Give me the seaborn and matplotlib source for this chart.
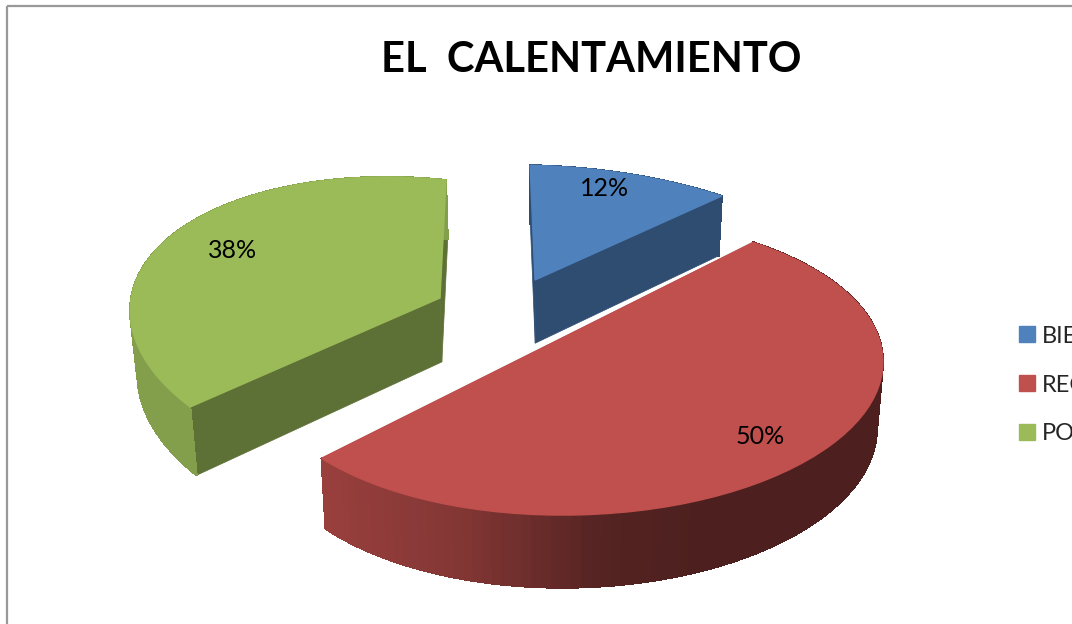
import numpy as np
import matplotlib
matplotlib.use("Agg")
import matplotlib.pyplot as plt
import seaborn as sns
from matplotlib.collections import PolyCollection
from matplotlib.patches import Rectangle
from matplotlib.transforms import Transform

# Chart data
TITLE = "EL  CALENTAMIENTO"
CATEGORIES = ["BIEN", "REGULAR", "POCO"]
VALUES = [12, 50, 38]
COLORS = ["#4F81BD", "#C0504D", "#9BBB59"]

# Where each exploded slice sits on the page: apex, plane matrix, perspective
CAMERA = {
    "BIEN": dict(apex=(535, 280), m=(323, -6, 6.7, -140), g=0.0, h=0.22),
    "REGULAR": dict(apex=(572, 333), m=(304, 3, -2.5, -142), g=0.0, h=0.22),
    "POCO": dict(apex=(440, 298), m=(287.3, 7.3, 24.9, -144.3), g=0.042, h=0.223),
}
LABEL_POS = {"BIEN": (605, 189), "REGULAR": (760, 437), "POCO": (233, 250)}
DRAW_ORDER = ["POCO", "BIEN", "REGULAR"]

# Brightness of the outer wall against page x
SHADE_X = {
    "BIEN": ([0, 1072], [0.6, 0.6]),
    "REGULAR": ([318, 460, 600, 700, 880], [0.80, 0.68, 0.44, 0.40, 0.40]),
    "POCO": ([130, 200], [0.85, 0.85]),
}
RADIAL_SHADE = 0.6


class SlicePlane(Transform):
    """Maps the unit pie disk onto the tilted page plane of one slice."""

    input_dims = 2
    output_dims = 2

    def __init__(self, apex, m, g, h):
        super().__init__()
        self.apex, self.m, self.g, self.h = apex, m, g, h

    def transform_non_affine(self, values):
        x, y = values[:, 0], values[:, 1]
        d = 1 + self.g * x + self.h * y
        px = self.apex[0] + (self.m[0] * x + self.m[1] * y) / d
        py = self.apex[1] + (self.m[2] * x + self.m[3] * y) / d
        return np.column_stack([px, py])


def drop(points):
    """Push top face points down to the bottom of the pie."""
    x, y = points[:, 0], points[:, 1]
    return np.column_stack([x + 0.018 * (545 - x), y + 52 + 0.04 * y])


def draw_walls(ax, plane, start, end, color, shade_x, zorder):
    base = np.array(matplotlib.colors.to_rgb(color))

    # straight walls along both cut edges
    for phi in (start, end):
        edge = np.array([[0, 0], [np.sin(phi), np.cos(phi)]])
        top = plane.transform_non_affine(edge)
        quad = np.vstack([top, drop(top)[::-1]])
        ax.fill(quad[:, 0], quad[:, 1], color=base * RADIAL_SHADE, lw=0.5, zorder=zorder)

    # curved outer wall as thin strips
    phis = np.linspace(start, end, 121)
    rim = plane.transform_non_affine(np.column_stack([np.sin(phis), np.cos(phis)]))
    low = drop(rim)
    strips = [np.vstack([rim[i:i + 2], low[i:i + 2][::-1]]) for i in range(len(rim) - 1)]
    mids = (rim[:-1, 0] + rim[1:, 0]) / 2
    faces = [base * s for s in np.interp(mids, *shade_x)]
    ax.add_collection(PolyCollection(strips, facecolors=faces, edgecolors=faces, linewidths=0.8,
                                     antialiaseds=False, zorder=zorder + 1))


def main():
    sns.set_theme(style="white")
    plt.rcParams["font.family"] = ["Lato", "DejaVu Sans"]

    fig, ax = plt.subplots(figsize=(10.72, 6.24), dpi=100)
    ax.set_position([0, 0, 1, 1])

    palette = sns.color_palette(COLORS)
    wedges, _, pcts = ax.pie(VALUES, colors=palette, startangle=90, counterclock=False,
                             autopct="%d%%", textprops=dict(fontsize=18, color="black"))

    angles = np.cumsum([0] + VALUES) / sum(VALUES) * 2 * np.pi
    ax.set_aspect("auto")
    ax.set_xlim(0, 1072)
    ax.set_ylim(624, 0)
    ax.set_axis_off()

    # each slice stacks over the previous one
    for n, name in enumerate(DRAW_ORDER):
        i = CATEGORIES.index(name)
        plane = SlicePlane(**CAMERA[name])
        draw_walls(ax, plane, angles[i], angles[i + 1], COLORS[i], SHADE_X[name], 10 + 3 * n)
        wedges[i].set_transform(plane + ax.transData)
        wedges[i].set_edgecolor(COLORS[i])
        wedges[i].set_linewidth(1.0)
        wedges[i].set_zorder(12 + 3 * n)

    for i, name in enumerate(CATEGORIES):
        pcts[i].set_position(LABEL_POS[name])
        pcts[i].set_ha("center")
        pcts[i].set_va("center")
        pcts[i].set_zorder(50)

    ax.add_patch(Rectangle((7, 6), 1300, 900, fill=False, ec="#999999", lw=1.6, zorder=1))

    ax.text(591, 60, TITLE, ha="center", va="center", fontsize=30, fontweight="bold", color="black", zorder=50)

    ax.legend(wedges, CATEGORIES, loc="center left", bbox_to_anchor=(1019, 385), bbox_transform=ax.transData,
              frameon=False, fontsize=17, handlelength=0.68, handleheight=0.68, handletextpad=0.29,
              labelspacing=1.18, borderpad=0, borderaxespad=0)

    fig.savefig("out.png", dpi=100)
    plt.close(fig)


if __name__ == "__main__":
    main()
